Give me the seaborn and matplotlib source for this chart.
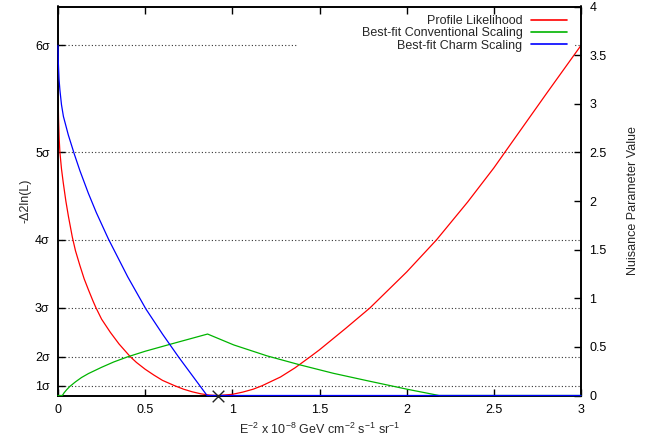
import matplotlib
matplotlib.use("Agg")
import matplotlib.pyplot as plt
import seaborn as sns
from matplotlib.patches import Rectangle

sns.set_theme(style="white")
plt.rcParams["font.family"] = ["Liberation Sans", "DejaVu Sans"]
plt.rcParams["mathtext.default"] = "regular"
plt.rcParams["font.size"] = 9

# ---- data ----
# profile likelihood, -2 delta ln(L), left axis
red_x = [0.0, 0.003, 0.007, 0.011, 0.02, 0.03, 0.045, 0.06, 0.082, 0.1, 0.125,
         0.15, 0.175, 0.2, 0.217, 0.25, 0.3, 0.35, 0.414, 0.45, 0.5, 0.55, 0.6,
         0.67, 0.72, 0.77, 0.82, 0.87, 0.92, 1.0, 1.06, 1.12, 1.17, 1.276, 1.36,
         1.448, 1.5, 1.65, 1.789, 2.0, 2.171, 2.35, 2.5, 2.563, 2.8, 3.0]
red_y = [31.5, 28.5, 26.3, 25.0, 23.3, 21.9, 20.0, 18.4, 16.3, 14.9, 13.4,
         12.0, 10.85, 9.75, 9.05, 7.85, 6.5, 5.3, 4.0, 3.4, 2.7, 2.1, 1.55,
         1.0, 0.65, 0.38, 0.17, 0.04, 0.0, 0.12, 0.35, 0.65, 1.0, 1.9, 2.85,
         4.0, 4.7, 6.9, 9.0, 12.7, 16.0, 19.9, 23.4, 25.0, 31.0, 36.0]

# best-fit conventional scaling, right axis
green_x = [0.0, 0.025, 0.035, 0.05, 0.067, 0.1, 0.135, 0.174, 0.25, 0.32, 0.4,
           0.5, 0.644, 0.858, 1.008, 1.2, 1.39, 1.58, 1.774, 2.004, 2.186, 3.0]
green_y = [0.0, 0.0, 0.028, 0.06, 0.092, 0.14, 0.185, 0.225, 0.29, 0.345, 0.398,
           0.455, 0.527, 0.632, 0.52, 0.407, 0.314, 0.228, 0.152, 0.064, 0.0, 0.0]

# best-fit charm scaling, right axis
blue_x = [0.0, 0.002, 0.006, 0.011, 0.02, 0.031, 0.059, 0.094, 0.126, 0.174,
          0.22, 0.266, 0.289, 0.4, 0.504, 0.6, 0.692, 0.82, 0.855, 3.0]
blue_y = [3.6, 3.42, 3.25, 3.14, 2.99, 2.87, 2.68, 2.48, 2.31, 2.08,
          1.88, 1.70, 1.61, 1.22, 0.89, 0.63, 0.395, 0.085, 0.0, 0.0]

best_fit_x = [0.92]
best_fit_y = [0.0]

sigma_vals = [1, 4, 9, 16, 25, 36]
sigma_labels = ["1σ", "2σ", "3σ", "4σ", "5σ", "6σ"]
x_ticks = [0, 0.5, 1, 1.5, 2, 2.5, 3]
x_ticklabels = ["0", "0.5", "1", "1.5", "2", "2.5", "3"]
nuis_ticks = [0, 0.5, 1, 1.5, 2, 2.5, 3, 3.5, 4]
nuis_ticklabels = ["0", "0.5", "1", "1.5", "2", "2.5", "3", "3.5", "4"]

fig = plt.figure(figsize=(6.6, 4.45), dpi=100)
ax = fig.add_axes([58 / 660, 1 - 395.5 / 445, 523 / 660, 389 / 445])
ax2 = ax.twinx()

sns.lineplot(x=red_x, y=red_y, ax=ax, color="#ff0000", lw=0.9,
             estimator=None, sort=False, legend=False)
sns.lineplot(x=green_x, y=green_y, ax=ax2, color="#00b400", lw=0.9,
             estimator=None, sort=False, legend=False, clip_on=False, zorder=3)
sns.lineplot(x=blue_x, y=blue_y, ax=ax2, color="#0000ff", lw=0.9,
             estimator=None, sort=False, legend=False, clip_on=False, zorder=3)
sns.scatterplot(x=best_fit_x, y=best_fit_y, ax=ax2, marker="x", s=70,
                color="#222222", linewidth=1.0, clip_on=False, zorder=6, legend=False)

ax.set_xlim(0, 3)
ax.set_ylim(0, 40)
ax2.set_ylim(0, 4)

ax.set_xticks(x_ticks)
ax.set_xticklabels(x_ticklabels)
ax.set_yticks(sigma_vals)
ax.set_yticklabels(sigma_labels)
ax2.set_yticks(nuis_ticks)
ax2.set_yticklabels(nuis_ticklabels)

ax.yaxis.grid(True, linestyle=(0, (1, 2)), color="#333333", lw=0.8)
ax.xaxis.grid(False)
ax2.grid(False)

ax.tick_params(axis="x", direction="in", length=5, width=1, top=True, bottom=True,
               pad=6, labelsize=9, colors="black")
ax.tick_params(axis="y", direction="in", length=5, width=1, left=True, right=False,
               pad=6, labelsize=9, colors="black")
ax2.tick_params(axis="y", direction="in", length=5, width=1, right=True, left=False,
                pad=6, labelsize=9, colors="black")

for a in (ax, ax2):
    for s in a.spines.values():
        s.set_color("black")
        s.set_linewidth(1.2)

ax.set_xlabel("E$^{-2}$ x 10$^{-8}$ GeV cm$^{-2}$ s$^{-1}$ sr$^{-1}$", fontsize=9)
ax.xaxis.set_label_coords(0.5, -0.068)
ax.set_ylabel("-Δ2ln(L)", fontsize=9)
ax.yaxis.set_label_coords(-0.05, 0.5)
ax2.set_ylabel("Nuisance Parameter Value", fontsize=9)
ax2.yaxis.set_label_coords(1.088, 0.5)

# key area hides the 6 sigma grid line, as in the original
ax2.add_patch(Rectangle((0.459, 0.888), 0.53, 0.031, transform=ax2.transAxes,
                        facecolor="white", edgecolor="none", zorder=1.5))

handles = [plt.Line2D([], [], color=c, lw=1.2) for c in ("#ff0000", "#00b400", "#0000ff")]
labels = ["Profile Likelihood", "Best-fit Conventional Scaling", "Best-fit Charm Scaling"]
ax2.legend(handles, labels, loc="upper right", bbox_to_anchor=(0.973, 0.978),
           markerfirst=False, frameon=True, facecolor="white", edgecolor="none",
           framealpha=1, fancybox=False, borderpad=0, borderaxespad=0,
           handlelength=2.9, handletextpad=0.65, labelspacing=0.03, fontsize=9)

fig.savefig("out.png", dpi=100)
